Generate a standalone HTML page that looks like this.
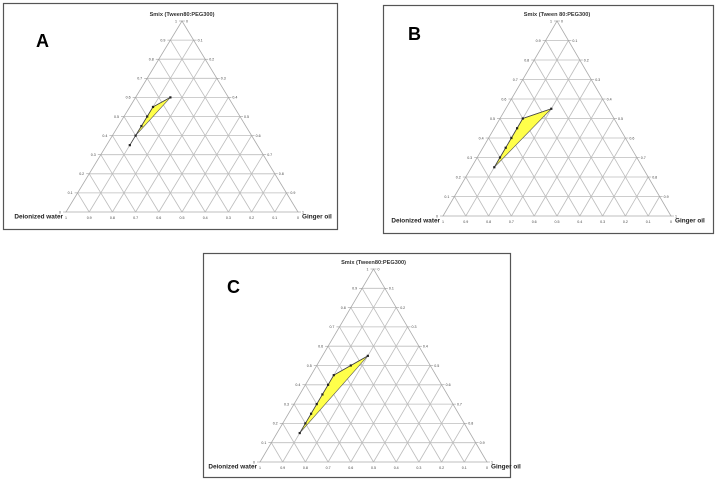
<!DOCTYPE html>
<html><head><meta charset="utf-8">
<style>
html,body{margin:0;padding:0;background:#fff;}
body{width:718px;height:488px;overflow:hidden;position:relative;font-family:"Liberation Sans",sans-serif;}
svg{position:absolute;left:0;top:0;}
</style></head>
<body>
<svg id="chart" width="718" height="488" viewBox="0 0 718 488" xmlns="http://www.w3.org/2000/svg"></svg>
<script>
// Panel data: oil fraction and Smix fraction of each plotted boundary point
const panelA_oil  = [0.15, 0.1, 0.1, 0.1, 0.1, 0.1];
const panelA_smix = [0.6, 0.55, 0.5, 0.45, 0.4, 0.35];
const panelA_fillCount = 5;
const panelB_oil  = [0.2, 0.1, 0.1, 0.1, 0.1, 0.1, 0.1];
const panelB_smix = [0.55, 0.5, 0.45, 0.4, 0.35, 0.3, 0.25];
const panelB_fillCount = 7;
const panelC_oil  = [0.2, 0.15, 0.1, 0.1, 0.1, 0.1, 0.1, 0.1, 0.1];
const panelC_smix = [0.55, 0.5, 0.45, 0.4, 0.35, 0.3, 0.25, 0.2, 0.15];
const panelC_fillCount = 9;
const tickLabels = ["0","0.1","0.2","0.3","0.4","0.5","0.6","0.7","0.8","0.9","1"];

const NS = "http://www.w3.org/2000/svg";
const svg = document.getElementById('chart');
function mk(tag, attrs, parent){
  const e = document.createElementNS(NS, tag);
  for (const k in attrs) e.setAttribute(k, attrs[k]);
  (parent||svg).appendChild(e);
  return e;
}
function panel(cfg){
  const g = mk('g', {});
  
  
  const fr = mk('rect', {x:cfg.fx+0.5, y:cfg.fy+0.5, width:cfg.fw, height:cfg.fh, fill:'#fff', stroke:'#555', 'stroke-width':1.2}, g);
  
  
  const L = cfg.L, R = cfg.R;
  const W = R - L, H = cfg.by - cfg.ty;
  const px = (oil, smix) => L + (oil + smix/2) * W;
  const py = (smix) => cfg.by - smix * H;
  const grid = mk('g', {stroke:'#bdbdbd', 'stroke-width':0.8, fill:'none'}, g);
  
  
  for (let i = 1; i < 10; i++) {
    const s = i/10;
    mk('line', {x1:px(0,s), y1:py(s), x2:px(1-s,s), y2:py(s)}, grid);
    mk('line', {x1:px(s,0), y1:py(0), x2:px(s,1-s), y2:py(1-s)}, grid);
    mk('line', {x1:px(1-s,0), y1:py(0), x2:px(0,1-s), y2:py(1-s)}, grid);
  }
  const edge = mk('polygon', {points:`${px(0,0)},${py(0)} ${px(1,0)},${py(0)} ${px(0,1)},${py(1)}`, fill:'none', stroke:'#aaa', 'stroke-width':0.8}, g);
  
  
  const tl = mk('g', {'font-size':3.6, fill:'#444'}, g);
  
  
  for (let i = 0; i <= 10; i++) {
    const s = i/10;
    let x = px(0,s), y = py(s);
    mk('line', {x1:x-3, y1:y, x2:x, y2:y, stroke:'#888', 'stroke-width':0.5}, tl);
    const t1 = mk('text', {x:x-5, y:y+1.3, 'text-anchor':'end'}, tl); t1.textContent = tickLabels[i];
    x = px(1-s, s); y = py(s);
    mk('line', {x1:x, y1:y, x2:x+3, y2:y, stroke:'#888', 'stroke-width':0.5}, tl);
    const t2 = mk('text', {x:x+4, y:y+1.3}, tl); t2.textContent = tickLabels[10-i];
    x = px(s, 0); y = py(0);
    const t3 = mk('text', {x:x, y:y+7, 'text-anchor':'middle'}, tl); t3.textContent = tickLabels[10-i];
  }
  const oil = cfg.oil, sm = cfg.smix, n = cfg.fill;
  let pts = [];
  for (let i = 0; i < n; i++) pts.push(px(oil[i], sm[i]) + ',' + py(sm[i]));
  const region = mk('polygon', {points:pts.join(' '), fill:'#ffff4a', stroke:'#555', 'stroke-width':0.6}, g);
  
  
  let lp = [];
  for (let i = 0; i < oil.length; i++) lp.push(px(oil[i], sm[i]) + ',' + py(sm[i]));
  const bl = mk('polyline', {points:lp.join(' '), fill:'none', stroke:'#444', 'stroke-width':0.8}, g);
  
  
  for (let i = 0; i < oil.length; i++) {
    const d = mk('rect', {x:px(oil[i], sm[i])-1.1, y:py(sm[i])-1.1, width:2.2, height:2.2, fill:'#222'}, g);
    
    
  }
  const tt = mk('text', {x:px(0,1), y:cfg.ty-5, 'text-anchor':'middle', 'font-size':5.6, 'font-weight':'bold', fill:'#333'}, g);
  
  
  tt.textContent = cfg.title;
  const wt = mk('text', {x:L-3, y:cfg.by+6.5, 'text-anchor':'end', 'font-size':6.4, 'font-weight':'bold', fill:'#222'}, g);
  
  
  wt.textContent = 'Deionized water';
  const ot = mk('text', {x:R+4, y:cfg.by+6.5, 'font-size':6.4, 'font-weight':'bold', fill:'#222'}, g);
  
  
  ot.textContent = 'Ginger oil';
  const pl = mk('text', {x:cfg.lx, y:cfg.ly, 'font-size':18, 'font-weight':'bold', fill:'#000'}, g);
  
  
  pl.textContent = cfg.id;
}
panel({id:'A', fx:3, fy:3, fw:334, fh:226, L:66, R:298, by:212, ty:21, title:'Smix (Tween80:PEG300)', oil:panelA_oil, smix:panelA_smix, fill:panelA_fillCount, lx:36, ly:47});
panel({id:'B', fx:383, fy:5, fw:330, fh:228, L:443, R:671, by:216, ty:21, title:'Smix (Tween 80:PEG300)', oil:panelB_oil, smix:panelB_smix, fill:panelB_fillCount, lx:408, ly:40});
panel({id:'C', fx:203, fy:253, fw:307, fh:224, L:260, R:487, by:462, ty:269, title:'Smix (Tween80:PEG300)', oil:panelC_oil, smix:panelC_smix, fill:panelC_fillCount, lx:227, ly:293});
</script>
</body></html>
